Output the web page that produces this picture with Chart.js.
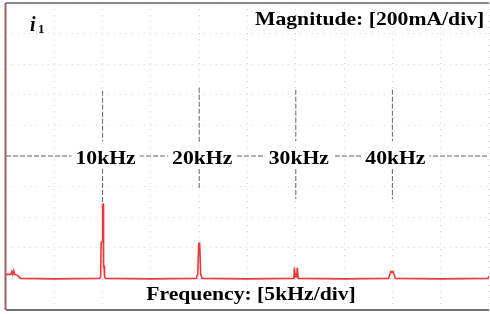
<!DOCTYPE html>
<html>
<head>
<meta charset="utf-8">
<script src="https://cdn.jsdelivr.net/npm/chart.js@4"></script>
<style>
  html, body { margin: 0; padding: 0; background: #fff; }
  #wrap { width: 490px; height: 314px; }
</style>
</head>
<body>
<div id="wrap"><canvas id="fftChart"></canvas></div>
<script>
// spectrum of i1 (frequency in kHz, magnitude in mA above the trace baseline)
var freqKHz = [0, 0.5, 0.6, 0.7, 0.8, 0.9, 1.2, 1.5, 5, 9.7, 9.8, 9.85, 9.95, 10.0, 10.05, 10.1, 10.15, 10.2, 10.3, 15,
               19.7, 19.85, 19.95, 20.05, 20.15, 20.3, 25, 29.8, 29.85, 29.9, 29.95, 30.1, 30.15, 30.2, 30.25, 35,
               39.6, 39.75, 39.85, 39.95, 40.05, 40.15, 40.3, 45, 49.9, 50];
var magMA   = [26, 26, 45, 26, 50, 26, 20, 0, -3, 0, 10, 236, 236, 485, 485, 80, 80, 10, 0, -3,
               0, 30, 230, 230, 30, 0, -3, 0, 70, 70, 10, 10, 70, 70, 0, -3,
               0, 30, 46, 40, 46, 30, 0, -3, 0, 15];

// harmonic markers
var markerFreqs = [10, 20, 30, 40];
var markerLabels = ['10kHz', '20kHz', '30kHz', '40kHz'];
var markerUpperTop = [1226, 1246, 1233, 1233];
var markerUpperBottom = [898, 879, 898, 898];
var markerLowerTop = [715, 715, 715, 715];
var markerLowerBottom = [485, 590, 518, 518];
var labelLevel = 800;

var xTitle = 'Frequency: [5kHz/div]';
var yTitle = 'Magnitude: [200mA/div]';

var spectrum = freqKHz.map(function(f, i) { return { x: f, y: magMA[i] }; });

var markerPts = [];
markerFreqs.forEach(function(f, i) {
    markerPts.push({ x: f, y: markerUpperTop[i] }, { x: f, y: markerUpperBottom[i] }, { x: f, y: null });
    markerPts.push({ x: f, y: markerLowerTop[i] }, { x: f, y: markerLowerBottom[i] }, { x: f, y: null });
});

var serif = '"Liberation Serif", "Times New Roman", serif';
var stretch = 1.14;

// text in the scope picture is a bit wider than plain Times
function wideText(ctx, txt, x, y, align) {
    var w = ctx.measureText(txt).width * stretch;
    var left = align === 'center' ? x - w / 2 : x;
    ctx.save();
    ctx.translate(left, y);
    ctx.scale(stretch, 1);
    ctx.textAlign = 'left';
    ctx.fillText(txt, 0, 0);
    ctx.restore();
    return w;
}

var scopeText = {
    id: 'scopeText',
    afterDatasetsDraw: function(chart) {
        var ctx = chart.ctx;
        var xs = chart.scales.x, ys = chart.scales.y;
        var a = chart.chartArea;
        ctx.save();
        ctx.fillStyle = '#000';
        ctx.textBaseline = 'middle';

        // harmonic labels on the centre line
        ctx.font = 'bold 19px ' + serif;
        markerLabels.forEach(function(lbl, i) {
            var px = xs.getPixelForValue(markerFreqs[i]) + 3;
            var py = ys.getPixelForValue(labelLevel) + 3;
            var w = ctx.measureText(lbl).width * stretch;
            ctx.fillStyle = '#fff';
            ctx.fillRect(px - w / 2 - 4, py - 11, w + 8, 20);
            ctx.fillStyle = '#000';
            wideText(ctx, lbl, px, py, 'center');
        });

        // scale captions
        ctx.font = 'bold 19px ' + serif;
        wideText(ctx, yTitle, 255, 20, 'left');
        wideText(ctx, xTitle, 251, 295, 'center');

        // channel name
        ctx.font = 'italic bold 20px ' + serif;
        ctx.textAlign = 'left';
        ctx.fillText('i', 30, 26);
        ctx.font = 'bold 13px ' + serif;
        ctx.fillText('1', 38, 30);

        // frame
        ctx.lineWidth = 1.5;
        ctx.strokeStyle = '#666';
        ctx.beginPath();
        ctx.moveTo(a.left, a.top);
        ctx.lineTo(a.right, a.top);
        ctx.stroke();
        ctx.strokeStyle = '#444';
        ctx.beginPath();
        ctx.moveTo(a.left, a.bottom + 1);
        ctx.lineTo(a.right, a.bottom + 1);
        ctx.stroke();
        ctx.strokeStyle = '#a06060';
        ctx.lineWidth = 2;
        ctx.beginPath();
        ctx.moveTo(a.left - 0.5, a.top);
        ctx.lineTo(a.left - 0.5, a.bottom + 1);
        ctx.stroke();
        ctx.restore();
    }
};

var ctx = document.getElementById('fftChart').getContext('2d');
var fftChart = new Chart(ctx, {
    type: 'line',
    data: {
        datasets: [{
            label: 'i1',
            data: spectrum,
            borderColor: '#e8383a',
            borderWidth: 1.6,
            pointRadius: 0,
            tension: 0,
            order: 0
        }, {
            label: 'markers',
            data: markerPts,
            borderColor: '#666',
            borderWidth: 1,
            borderDash: [5, 2],
            pointRadius: 0,
            spanGaps: false,
            order: 2
        }, {
            label: 'centre',
            data: [{ x: 0, y: labelLevel }, { x: 50, y: labelLevel }],
            borderColor: '#666',
            borderWidth: 1,
            borderDash: [5, 2],
            pointRadius: 0,
            order: 3
        }]
    },
    options: {
        responsive: true,
        maintainAspectRatio: false,
        animation: false,
        layout: { padding: { left: 6, right: 1, top: 3, bottom: 5 } },
        plugins: {
            legend: { display: false },
            tooltip: { enabled: false }
        },
        scales: {
            x: {
                type: 'linear',
                min: 0,
                max: 50,
                ticks: { display: false, stepSize: 5 },
                grid: { color: 'rgba(0,0,0,0.15)', lineWidth: 1, drawTicks: false },
                border: { display: false, dash: [1, 5] }
            },
            y: {
                min: -200,
                max: 1800,
                ticks: { display: false, stepSize: 200 },
                grid: { color: 'rgba(0,0,0,0.15)', lineWidth: 1, drawTicks: false },
                border: { display: false, dash: [1, 5] }
            }
        }
    },
    plugins: [scopeText]
});
</script>
</body>
</html>
